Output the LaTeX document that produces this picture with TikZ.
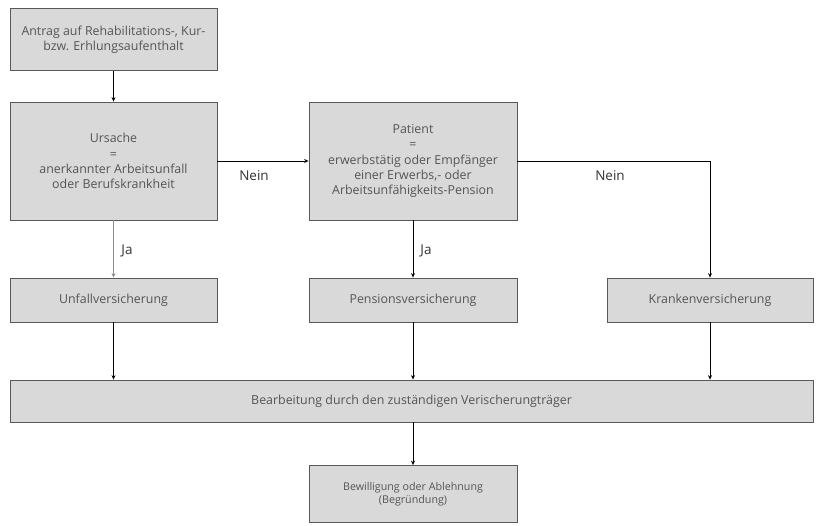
\documentclass[tikz,border=0pt]{standalone}
\usepackage{fontspec}
\setmainfont{Open Sans}
\usetikzlibrary{arrows.meta}
\definecolor{boxfill}{HTML}{D9D9D9}
\definecolor{boxline}{HTML}{595959}
\definecolor{txt}{HTML}{555555}
\begin{document}
\begin{tikzpicture}[x=1pt,y=-1pt,
  box/.style={draw=boxline,fill=boxfill,line width=0.8pt,inner sep=0pt,text=txt,align=center,font=\fontsize{12.4}{15.2}\selectfont},
  arr/.style={-{Stealth[length=4.5pt,width=4pt]},line width=0.8pt,draw=black},
  lbl/.style={text=black!80,font=\fontsize{13.5}{15}\selectfont}]
\useasboundingbox (0,0) rectangle (816,525);
\node[box,minimum width=207pt,minimum height=62pt] (antrag) at (113.5,39.5) {Antrag auf Rehabilitations-, Kur-\\bzw. Erhlungsaufenthalt};
\node[box,minimum width=207pt,minimum height=118pt] (ursache) at (113.5,161) {Ursache\\=\\anerkannter Arbeitsunfall\\oder Berufskrankheit};
\node[box,minimum width=208pt,minimum height=118pt] (patient) at (413,161) {Patient\\=\\erwerbstätig oder Empfänger\\einer Erwerbs,- oder\\Arbeitsunfähigkeits-Pension};
\node[box,minimum width=207pt,minimum height=44pt] (unfall) at (113.5,300) {Unfallversicherung};
\node[box,minimum width=208pt,minimum height=44pt] (pension) at (413,300) {Pensionsversicherung};
\node[box,minimum width=206pt,minimum height=44pt] (kranken) at (710,300) {Krankenversicherung};
\node[box,minimum width=803pt,minimum height=42pt] (bearb) at (411.5,401) {Bearbeitung durch den zuständigen Verischerungträger};
\node[box,minimum width=208pt,minimum height=57pt,font=\fontsize{10.7}{13}\selectfont] (bew) at (413,494) {Bewilligung oder Ablehnung\\(Begründung)};
\draw[arr] (antrag.south) -- (ursache.north);
\draw[arr,draw=black!45] (ursache.south) -- (unfall.north);
\draw[arr] (ursache.east |- 0,161) -- (patient.west |- 0,161);
\draw[arr] (patient.south) -- (pension.north);
\draw[arr] (patient.east |- 0,161) -| (kranken.north);
\draw[arr] (unfall.south) -- (unfall.south |- bearb.north);
\draw[arr] (pension.south) -- (pension.south |- bearb.north);
\draw[arr] (kranken.south) -- (kranken.south |- bearb.north);
\draw[arr] (bearb.south -| bew.north) -- (bew.north);
\node[lbl] (ja1) at (127,251) {Ja};
\node[lbl] (ja2) at (426,251) {Ja};
\node[lbl] (nein1) at (254,176) {Nein};
\node[lbl] (nein2) at (610,176) {Nein};
\end{tikzpicture}
\end{document}
